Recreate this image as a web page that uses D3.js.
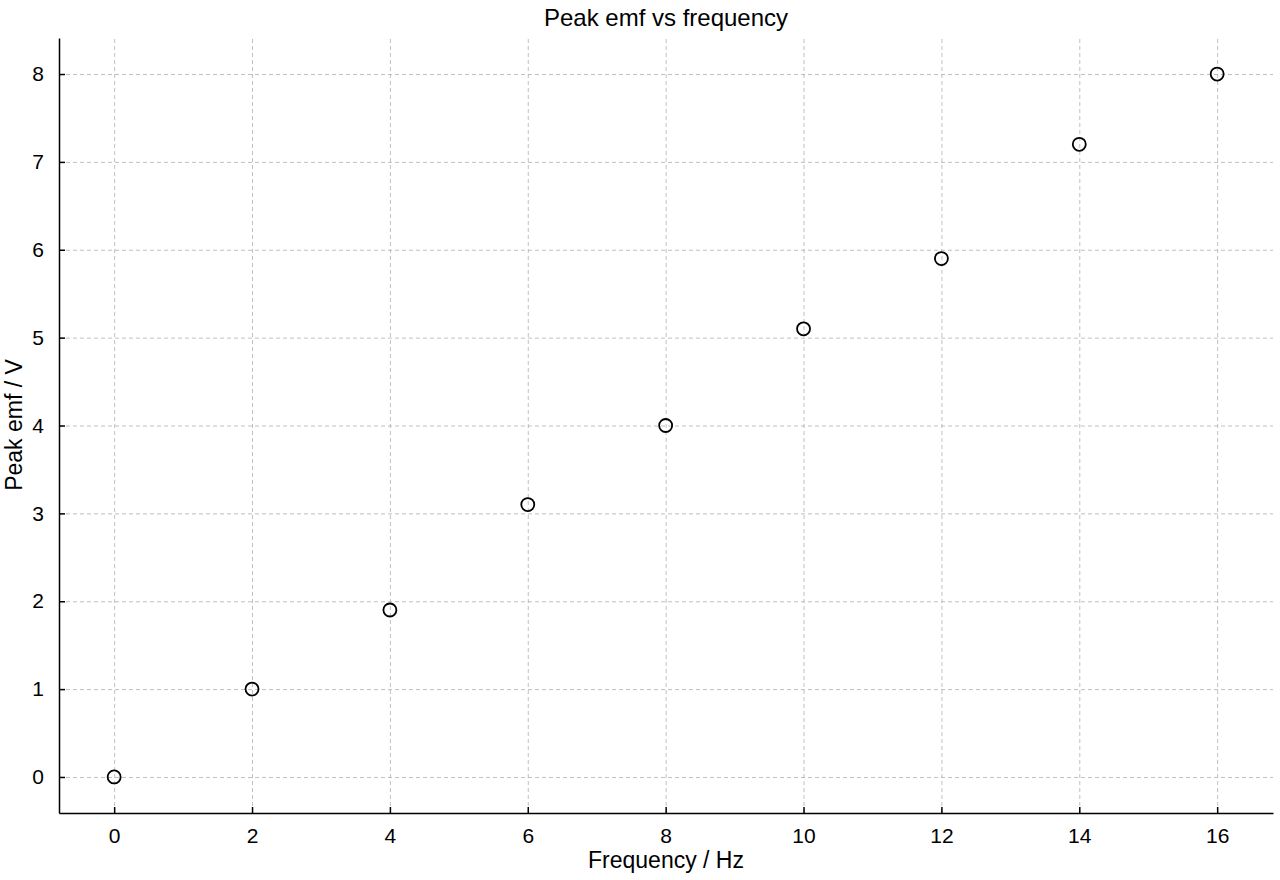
<!DOCTYPE html>
<html><head><meta charset="utf-8">
<script src="https://cdn.jsdelivr.net/npm/d3@7"></script>
<style>
body{margin:0;background:#fff;font-family:"Liberation Sans",Arial,sans-serif;}
.grid line{stroke:#b0b0b0;stroke-dasharray:4,3;stroke-width:0.8;}
.grid path{display:none;}
.axis text{fill:#000;}
.axis path,.axis line{stroke:#000;stroke-width:1.5;}
</style></head><body>
<svg id="chart" width="1280" height="880"></svg>
<script>
// data
const frequency = [0, 2, 4, 6, 8, 10, 12, 14, 16];
const peakEmf = [0, 1.0, 1.9, 3.1, 4.0, 5.1, 5.9, 7.2, 8.0];
const xTicks = [0, 2, 4, 6, 8, 10, 12, 14, 16];
const yTicks = [0, 1, 2, 3, 4, 5, 6, 7, 8];

const margin = {left: 59, right: 7, top: 38, bottom: 67};
const width = 1280 - margin.left - margin.right;
const height = 880 - margin.top - margin.bottom;

const svg = d3.select('#chart');
const g = svg.append('g').attr('transform', `translate(${margin.left},${margin.top})`);

const x = d3.scaleLinear().domain([-0.8, 16.81]).range([0, width]);
const y = d3.scaleLinear().domain([-0.41, 8.41]).range([height, 0]);

// grid
g.append('g').attr('class', 'grid')
    .attr('transform', `translate(0,${height})`)
    .call(d3.axisBottom(x).tickValues(xTicks).tickSize(-height).tickFormat(''));
g.append('g').attr('class', 'grid')
    .call(d3.axisLeft(y).tickValues(yTicks).tickSize(-width).tickFormat(''));

// axes, ticks pointing inward
g.append('g').attr('class', 'axis')
    .attr('transform', `translate(0,${height})`)
    .call(d3.axisBottom(x).tickValues(xTicks).tickSize(-6).tickSizeOuter(0).tickPadding(15))
    .attr('font-size', 21).attr('font-family', '"Liberation Sans",Arial,sans-serif');
g.append('g').attr('class', 'axis')
    .call(d3.axisLeft(y).tickValues(yTicks).tickSize(-6).tickSizeOuter(0).tickPadding(15))
    .attr('font-size', 21).attr('font-family', '"Liberation Sans",Arial,sans-serif');

// points
g.selectAll('.pt').data(frequency).enter()
    .append('circle')
    .attr('class', 'pt')
    .attr('cx', d => x(d))
    .attr('cy', (d, i) => y(peakEmf[i]))
    .attr('r', 6.5)
    .attr('fill', 'none')
    .attr('stroke', '#000')
    .attr('stroke-width', 1.8);

// labels
svg.append('text').attr('x', 666).attr('y', 26).attr('text-anchor', 'middle')
    .attr('font-size', 24).text('Peak emf vs frequency');
svg.append('text').attr('x', 666).attr('y', 868).attr('text-anchor', 'middle')
    .attr('font-size', 23).text('Frequency / Hz');
svg.append('text').attr('transform', 'translate(22,425) rotate(-90)').attr('text-anchor', 'middle')
    .attr('font-size', 23).text('Peak emf / V');
</script>
</body></html>
